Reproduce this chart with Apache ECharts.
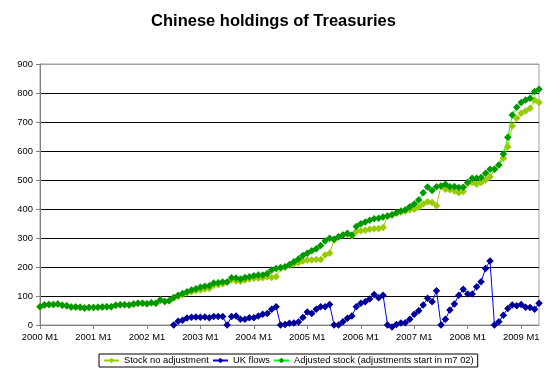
<!DOCTYPE html>
<html>
<head>
<meta charset="utf-8">
<script src="https://cdn.jsdelivr.net/npm/echarts@6/dist/echarts.min.js"></script>
<style>
html,body{margin:0;padding:0;background:#fff;}
#c{width:547px;height:374px;}
</style>
</head>
<body>
<div id="c"></div>
<script>
// ---- data ----
const startYear = 2000;
const monthCount = 113; // 2000 M1 .. 2009 M5
const categories = [];
for (let i = 0; i < monthCount; i++) {
  categories.push((startYear + Math.floor(i / 12)) + ' M' + (i % 12 + 1));
}
const yTicks = [0, 100, 200, 300, 400, 500, 600, 700, 800, 900];

const stockNoAdjustment = [
  63, 69, 71, 71, 72, 68, 66, 62, 62, 61, 59, 60,
  60, 61, 62, 63, 63, 68, 70, 70, 69, 72, 75, 75,
  73, 77, 75, 86, 81, 84, 93, 98, 104, 110, 115, 118,
  121, 124, 126, 137, 139, 142, 148, 155, 152, 151, 155, 159,
  161, 161, 163, 166, 164, 166, 196, 199, 206, 210, 215, 221,
  224, 224, 226, 226, 241, 247, 293, 304, 310, 312, 307, 322,
  325, 327, 330, 332, 333, 336, 376, 379, 385, 389, 393, 397,
  399, 406, 417, 425, 422, 411, 479, 468, 466, 462, 456, 460,
  489, 491, 485, 491, 500, 511, 537, 552, 575, 615, 686, 713,
  730, 738, 747, 776, 767
];

const ukFlows = [
  null, null, null, null, null, null, null, null, null, null, null, null,
  null, null, null, null, null, null, null, null, null, null, null, null,
  null, null, null, null, null, null, 0, 13, 16, 24, 27, 28,
  27, 28, 25, 29, 29, 29, 0, 29, 31, 20, 20, 25,
  25, 31, 37, 40, 54, 63, 0, 2, 6, 7, 10, 26,
  45, 40, 54, 63, 63, 71, 0, 0, 11, 23, 31, 63,
  75, 80, 90, 105, 94, 103, 0, -7, 2, 7, 8, 20,
  37, 49, 69, 92, 80, 118, 0, 20, 52, 72, 103, 123,
  107, 107, 132, 149, 195, 221, 0, 11, 34, 57, 69, 66,
  71, 61, 60, 54, 75
];

const adjustedStock = [
  63, 69, 71, 71, 72, 68, 66, 62, 62, 61, 59, 60,
  60, 61, 62, 63, 63, 68, 70, 70, 69, 72, 75, 75,
  73, 77, 75, 86, 81, 84, 95, 103, 109, 115, 121, 125,
  130, 134, 135, 145, 146, 148, 148, 163, 162, 159, 164, 166,
  170, 172, 172, 178, 190, 195, 198, 201, 209, 218, 228, 240,
  247, 256, 263, 274, 290, 299, 296, 304, 310, 316, 310, 340,
  349, 355, 361, 366, 368, 372, 376, 380, 387, 393, 397, 408,
  417, 431, 456, 476, 464, 477, 479, 485, 477, 478, 474, 475,
  492, 506, 506, 509, 523, 537, 537, 552, 590, 647, 724, 751,
  767, 776, 782, 805, 813
];

const seriesNames = [
  'Stock no adjustment',
  'UK flows',
  'Adjusted stock (adjustments start in m7 02)'
];

// ---- chart ----
const FONT = "'Liberation Sans', Arial, sans-serif";
const chart = echarts.init(document.getElementById('c'), null, {renderer: 'canvas'});

function lineSeries(name, data, lineColor, markColor, extra) {
  return Object.assign({
    name: name,
    type: 'line',
    data: data,
    symbol: 'diamond',
    symbolSize: 7.5,
    showAllSymbol: true,
    connectNulls: false,
    animation: false,
    lineStyle: {color: lineColor, width: 1},
    itemStyle: {color: markColor, borderWidth: 0}
  }, extra || {});
}

const everyYear = function (idx) { return idx % 12 === 0; };

chart.setOption({
  backgroundColor: '#fff',
  animation: false,
  title: {
    text: 'Chinese holdings of Treasuries',
    left: 'center',
    top: 13,
    padding: 0,
    textStyle: {fontFamily: FONT, fontSize: 16.5, fontWeight: 'bold', color: '#000'}
  },
  legend: {
    data: seriesNames,
    left: 99,
    top: 354,
    padding: [2, 4],
    itemWidth: 15,
    itemHeight: 7,
    itemGap: 3,
    borderColor: '#000',
    borderWidth: 1,
    textStyle: {fontFamily: FONT, fontSize: 9.4, color: '#000'}
  },
  grid: {
    left: 40, right: 8, top: 64, bottom: 49,
    show: true, borderColor: '#a0a0a0', borderWidth: 1, backgroundColor: 'transparent',
    containLabel: false
  },
  xAxis: {
    type: 'category',
    data: categories,
    boundaryGap: false,
    axisLine: {show: true, lineStyle: {color: '#808080', width: 1}},
    axisTick: {show: true, interval: everyYear, length: 4, lineStyle: {color: '#808080'}},
    axisLabel: {
      interval: everyYear,
      margin: 8, fontFamily: FONT, fontSize: 9.4, color: '#000'
    },
    splitLine: {show: false}
  },
  yAxis: {
    type: 'value',
    min: yTicks[0],
    max: yTicks[yTicks.length - 1],
    interval: 100,
    axisLine: {show: true, lineStyle: {color: '#808080', width: 1}},
    axisTick: {show: true, length: 4, lineStyle: {color: '#808080'}},
    axisLabel: {margin: 7, fontFamily: FONT, fontSize: 9.4, color: '#000'},
    splitLine: {
      show: true,
      lineStyle: {
        color: ['#808080', '#000', '#000', '#000', '#000', '#000', '#000', '#000', '#000', '#a0a0a0'],
        width: 1
      }
    }
  },
  series: [
    lineSeries(seriesNames[0], stockNoAdjustment, '#99CC00', '#99CC00'),
    lineSeries(seriesNames[1], ukFlows, '#0000FF', '#000099', {clip: false}),
    lineSeries(seriesNames[2], adjustedStock, '#00FF00', '#009900')
  ]
});
</script>
</body>
</html>
